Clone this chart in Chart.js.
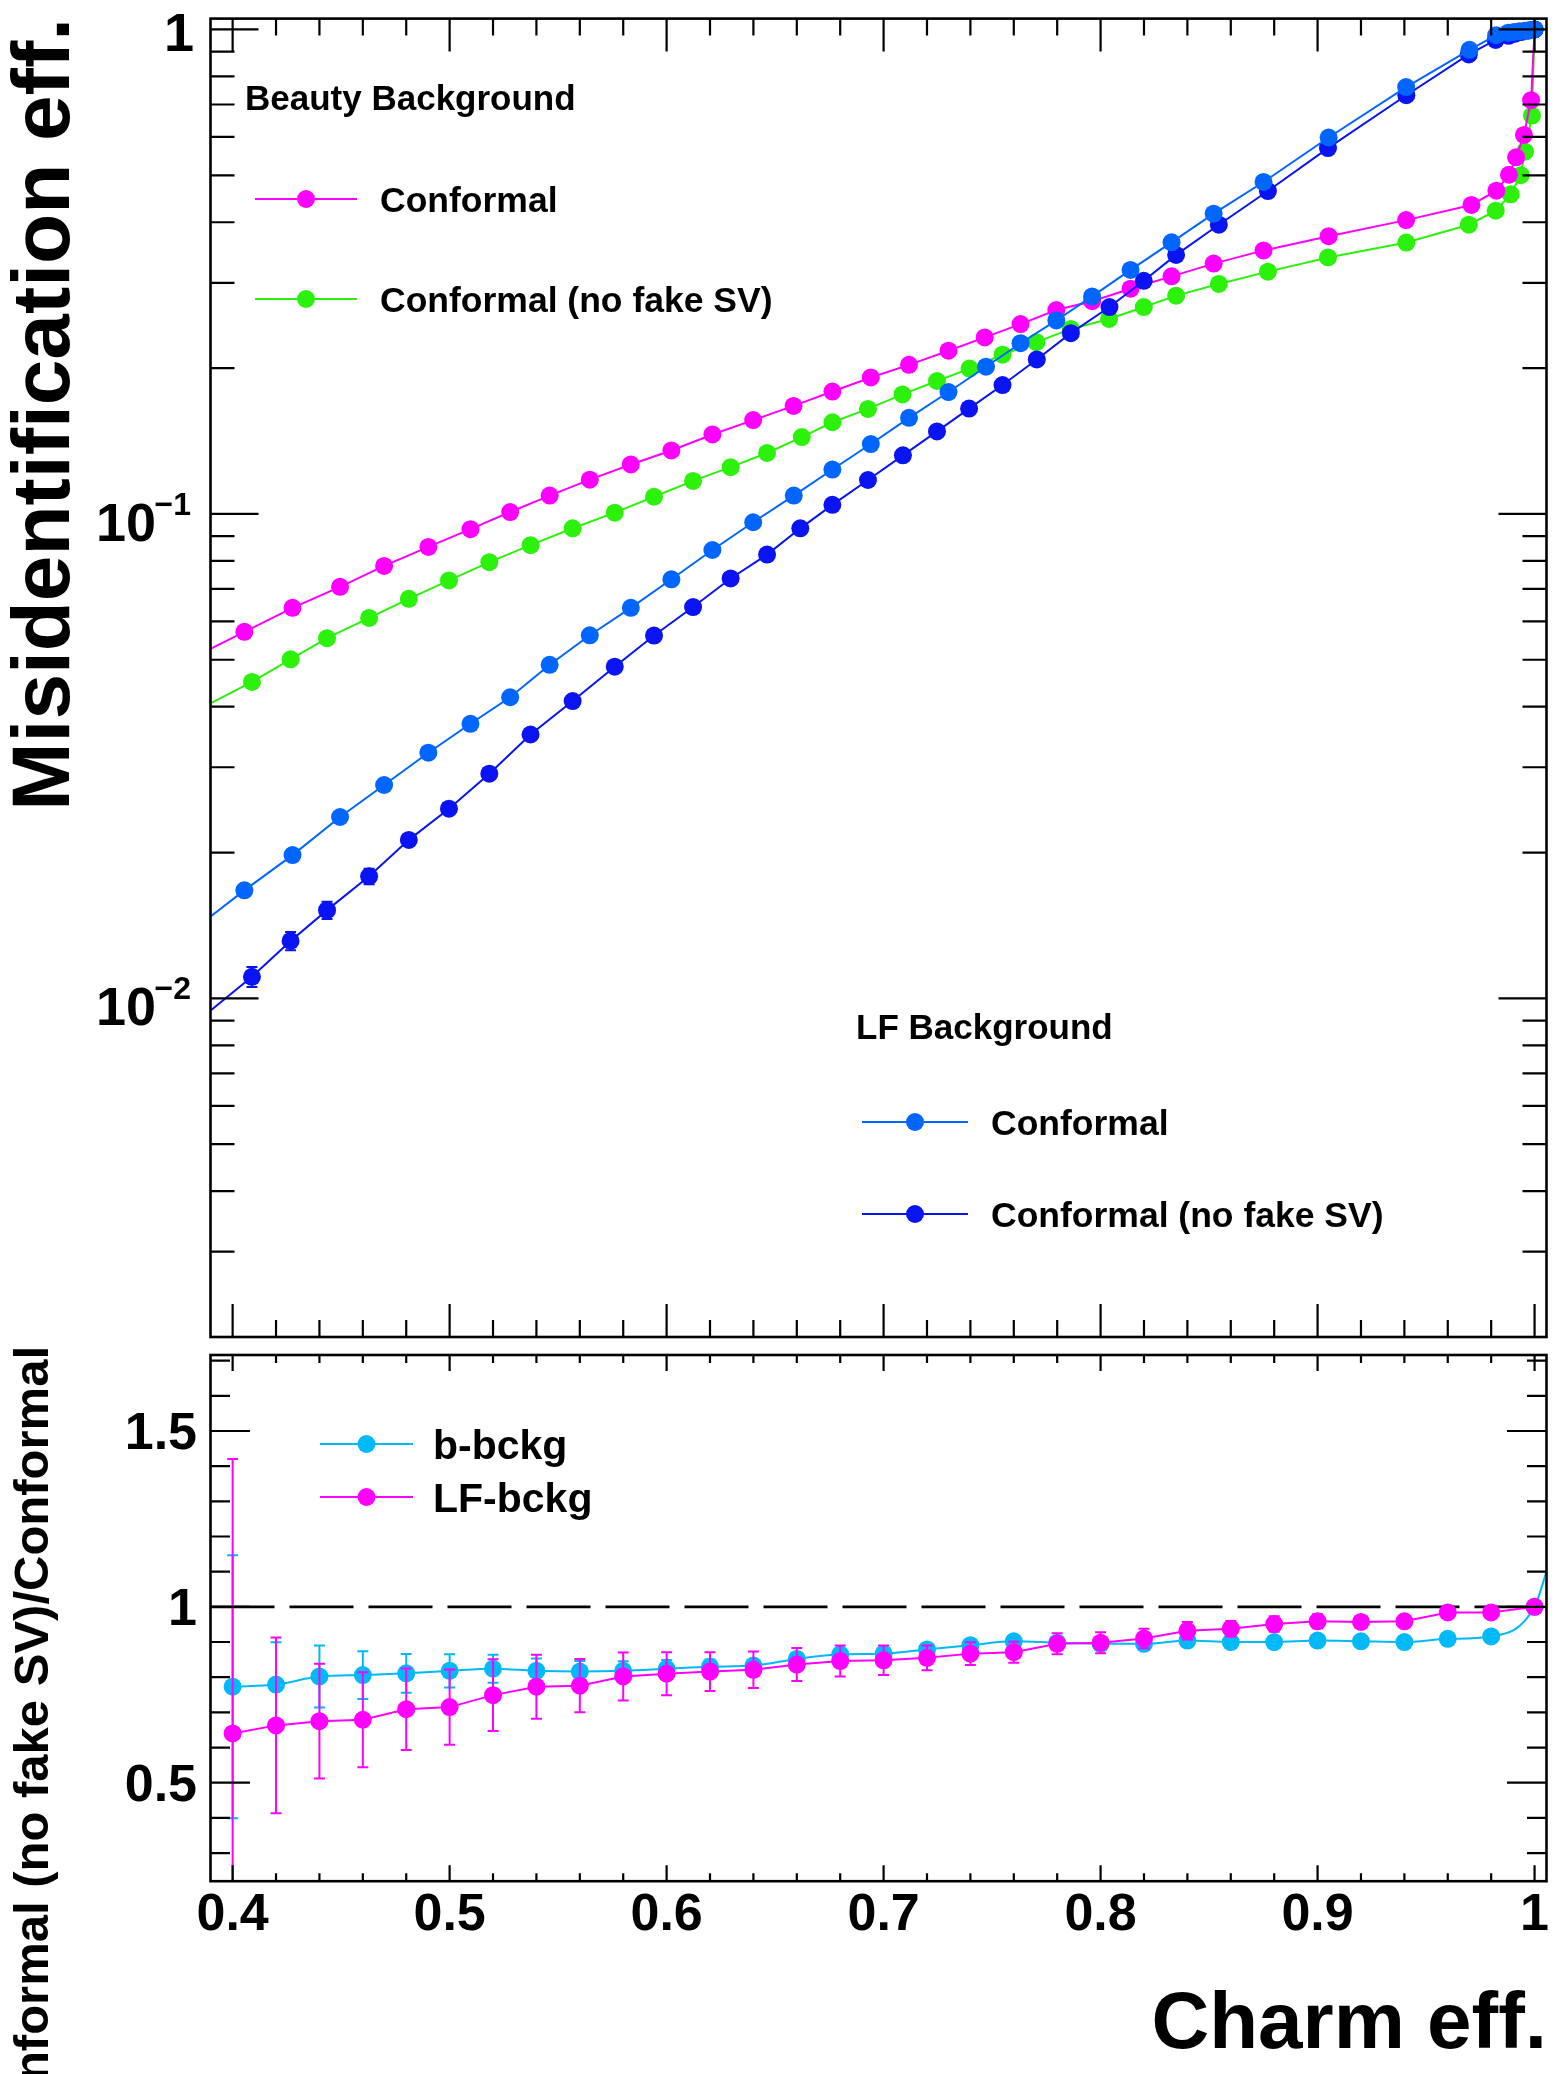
<!DOCTYPE html>
<html lang="en">
<head>
<meta charset="UTF-8" />
<title>Conformal vs Conformal (no fake SV) - charm tagging</title>
<script src="https://cdn.jsdelivr.net/npm/chart.js"></script>
<style>
  body { margin: 0; background: #fff; }
  #wrap { position: relative; width: 1559px; height: 2074px; overflow: hidden; }
  #topPad { position: absolute; left: 0; top: 0; }
  #ratioPad { position: absolute; left: 0; top: 1346px; }
</style>
</head>
<body>
<div id="wrap">
  <canvas id="topPad" width="1559" height="1346"></canvas>
  <canvas id="ratioPad" width="1559" height="728"></canvas>
</div>
<script>
// ---- values ----
// top pad: misidentification eff. vs charm eff.
// first entry of each curve = where the line enters the frame on the left
const beautyConfX = [0.390, 0.4054, 0.4276, 0.4495, 0.4698, 0.4902, 0.5096, 0.5279, 0.5461, 0.5646, 0.5835, 0.6022,
  0.6211, 0.6399, 0.6585, 0.6764, 0.6941, 0.7117, 0.7299, 0.7466, 0.7631, 0.7796, 0.7961, 0.8138, 0.8327, 0.8521,
  0.8751, 0.9051, 0.9408, 0.9709, 0.9824, 0.9882, 0.9915, 0.9951, 0.9984, 1.0];
const beautyConfY = [0.0527, 0.0571, 0.0640, 0.0707, 0.0781, 0.0855, 0.0930, 0.1009, 0.1091, 0.1177, 0.1265, 0.1352,
  0.1459, 0.1562, 0.1671, 0.1789, 0.1913, 0.2031, 0.2172, 0.2314, 0.2465, 0.2635, 0.2748, 0.2917, 0.3093, 0.3286,
  0.3499, 0.3744, 0.4041, 0.4343, 0.4647, 0.5013, 0.5445, 0.6056, 0.7145, 1.0];

const beautyNoFakeX = [0.390, 0.4089, 0.4267, 0.4435, 0.4629, 0.4812, 0.4997, 0.5183, 0.5373, 0.5567, 0.5761, 0.5942,
  0.6122, 0.6295, 0.6463, 0.6623, 0.6764, 0.6928, 0.7087, 0.7246, 0.7396, 0.7548, 0.7704, 0.7863, 0.8039, 0.8199,
  0.8348, 0.8545, 0.8771, 0.9048, 0.9409, 0.9697, 0.9821, 0.9890, 0.9936, 0.9956, 0.9988, 1.0];
const beautyNoFakeY = [0.0407, 0.0450, 0.0501, 0.0554, 0.0610, 0.0668, 0.0729, 0.0795, 0.0862, 0.0934, 0.1006, 0.1085,
  0.1170, 0.1249, 0.1336, 0.1441, 0.1546, 0.1647, 0.1765, 0.1881, 0.1995, 0.2131, 0.2262, 0.2409, 0.2526, 0.2673,
  0.2822, 0.2983, 0.3163, 0.3384, 0.3632, 0.3953, 0.4227, 0.4568, 0.5003, 0.5594, 0.6643, 1.0];

const lfConfX = [0.390, 0.4054, 0.4276, 0.4495, 0.4698, 0.4902, 0.5096, 0.5279, 0.5461, 0.5646, 0.5835, 0.6022,
  0.6211, 0.6399, 0.6586, 0.6764, 0.6941, 0.7117, 0.7299, 0.7472, 0.7631, 0.7796, 0.7961, 0.8138, 0.8327, 0.8521,
  0.8751, 0.9051, 0.9408, 0.9700, 0.9823, 0.9879, 0.9905, 0.9930, 0.9955, 0.9978, 1.0];
const lfConfY = [0.01477, 0.01671, 0.01976, 0.02368, 0.02757, 0.03214, 0.03688, 0.04184, 0.04882, 0.05617, 0.06400, 0.07329,
  0.08424, 0.09612, 0.1091, 0.1235, 0.1394, 0.1579, 0.1785, 0.2013, 0.2251, 0.2508, 0.2812, 0.3189, 0.3636, 0.4166,
  0.4844, 0.5984, 0.7603, 0.9076, 0.9730, 0.9849, 0.988, 0.991, 0.994, 0.997, 1.0];

const lfNoFakeX = [0.390, 0.4089, 0.4267, 0.4435, 0.4629, 0.4812, 0.4997, 0.5183, 0.5373, 0.5567, 0.5761, 0.5942,
  0.6122, 0.6295, 0.6463, 0.6616, 0.6764, 0.6928, 0.7089, 0.7246, 0.7394, 0.7548, 0.7706, 0.7863, 0.8041, 0.8199,
  0.8348, 0.8545, 0.8771, 0.9048, 0.9409, 0.9697, 0.9821, 0.9880, 0.9910, 0.9940, 0.9970, 1.0];
const lfNoFakeY = [0.00945, 0.01108, 0.01314, 0.01521, 0.01786, 0.02124, 0.02463, 0.02910, 0.03505, 0.04109, 0.04838, 0.05610,
  0.06424, 0.07358, 0.08243, 0.09338, 0.1044, 0.1175, 0.1321, 0.1480, 0.1650, 0.1845, 0.2084, 0.2361, 0.2673, 0.3028,
  0.3425, 0.3953, 0.4640, 0.5690, 0.7316, 0.8883, 0.9517, 0.970, 0.980, 0.988, 0.994, 1.0];
const lfNoFakeErr = [0, 0.00053, 0.00057, 0.00062, 0.00066];   // only the first ones stick out of the markers

// bottom pad: Conformal (no fake SV)/Conformal
const ratioX = [0.40, 0.42, 0.44, 0.46, 0.48, 0.50, 0.52, 0.54, 0.56, 0.58, 0.60, 0.62, 0.64, 0.66, 0.68, 0.70,
  0.72, 0.74, 0.76, 0.78, 0.80, 0.82, 0.84, 0.86, 0.88, 0.90, 0.92, 0.94, 0.96, 0.98, 1.00];
const bRatio = [0.773, 0.779, 0.802, 0.806, 0.811, 0.818, 0.824, 0.818, 0.816, 0.818, 0.824, 0.830, 0.833, 0.852, 0.865, 0.867,
  0.879, 0.891, 0.902, 0.898, 0.895, 0.895, 0.904, 0.900, 0.900, 0.904, 0.902, 0.900, 0.909, 0.916, 1.0];
const bRatioErr = [0.374, 0.12, 0.088, 0.068, 0.055, 0.047, 0.040, 0.035, 0.030, 0.027, 0.025, 0.020, 0.018, 0.016, 0.015, 0.014,
  0.013, 0.012, 0.011, 0.010, 0.010, 0.009, 0.008, 0.008, 0.007, 0.007, 0.006, 0.006, 0.005, 0.005, 0];
const bRatioEdgeX = [1.0055];   // b-bckg line leaves the frame on the right
const bRatioEdgeY = [1.10];
const lfRatio = [0.640, 0.663, 0.675, 0.679, 0.709, 0.715, 0.749, 0.773, 0.776, 0.802, 0.810, 0.816, 0.821, 0.836, 0.846, 0.848,
  0.855, 0.867, 0.871, 0.895, 0.898, 0.910, 0.932, 0.938, 0.951, 0.959, 0.957, 0.959, 0.984, 0.984, 1.0];
const lfRatioErr = [0.78, 0.25, 0.163, 0.135, 0.116, 0.107, 0.102, 0.091, 0.076, 0.068, 0.061, 0.055, 0.052, 0.047, 0.044, 0.042,
  0.035, 0.032, 0.030, 0.030, 0.030, 0.028, 0.025, 0.022, 0.022, 0.020, 0.015, 0.017, 0.012, 0.010, 0];

// axis ticks
const xTickValues = [0.4, 0.5, 0.6, 0.7, 0.8, 0.9, 1.0];
const xTickLabels = ['0.4', '0.5', '0.6', '0.7', '0.8', '0.9', '1'];
const logTickValues = [1, 0.1, 0.01];
const logTickExp = ['', '\u22121', '\u22122'];
const ratioTickValues = [0.5, 1.0, 1.5];
const ratioTickLabels = ['0.5', '1', '1.5'];

const MAGENTA = '#ff00ff', GREEN = '#2cf20b', LIGHTBLUE = '#0066ff', DARKBLUE = '#0a14f2', CYAN = '#00b9f8';
const FONT = '"Liberation Sans", Arial, Helvetica, sans-serif';
const R = 9;
const OFFSET = 1346;   // page y of the ratio canvas

function series(xs, ys, color, extra) {
  return Object.assign({
    data: xs.map((x, i) => ({ x: x, y: ys[i] })),
    showLine: true,
    borderColor: color,
    backgroundColor: color,
    borderWidth: 2,
    pointRadius: c => (c.dataIndex === 0 ? 0 : R),
    pointHoverRadius: R,
    pointBorderWidth: 0,
    tension: 0
  }, extra || {});
}

// vertical error bars, drawn just before the markers of the same set
const errorBars = {
  id: 'errorBars',
  beforeDatasetDraw(chart, args) {
    const ds = chart.data.datasets[args.index];
    if (!ds.errors) return;
    const ctx = chart.ctx, a = chart.chartArea;
    const xs = chart.scales.x, ys = chart.scales.y;
    ctx.save();
    ctx.beginPath();
    ctx.rect(a.left, a.top, a.right - a.left, a.bottom - a.top);
    ctx.clip();
    ctx.strokeStyle = ds.borderColor;
    ctx.lineWidth = 2;
    ds.data.forEach((p, i) => {
      const e = ds.errors[i] || 0;
      if (!e) return;
      const px = xs.getPixelForValue(p.x);
      const lo = p.y - e > 0 ? p.y - e : (ys.type === 'logarithmic' ? ys.min : p.y - e);
      const y1 = ys.getPixelForValue(p.y + e), y2 = ys.getPixelForValue(lo);
      ctx.beginPath();
      ctx.moveTo(px, y1); ctx.lineTo(px, y2);
      ctx.moveTo(px - 5.5, y1); ctx.lineTo(px + 5.5, y1);
      ctx.moveTo(px - 5.5, y2); ctx.lineTo(px + 5.5, y2);
      ctx.stroke();
    });
    ctx.restore();
  }
};

function frameAndTicks(chart, xT, yMaj, yMin, xLen, yLen) {
  const ctx = chart.ctx, a = chart.chartArea;
  const xs = chart.scales.x, ys = chart.scales.y;
  ctx.save();
  ctx.strokeStyle = '#000';
  ctx.lineWidth = 2.2;
  ctx.beginPath();
  for (let k = 0; k <= 30; k++) {
    const v = 0.4 + k * 0.02;
    const px = xs.getPixelForValue(v);
    const len = (k % 5 === 0) ? xLen[0] : xLen[1];
    ctx.moveTo(px, a.bottom); ctx.lineTo(px, a.bottom - len);
    ctx.moveTo(px, a.top); ctx.lineTo(px, a.top + len);
  }
  yMaj.forEach(v => {
    const py = ys.getPixelForValue(v);
    ctx.moveTo(a.left, py); ctx.lineTo(a.left + yLen[0], py);
    ctx.moveTo(a.right, py); ctx.lineTo(a.right - yLen[0], py);
  });
  yMin.forEach(v => {
    const py = ys.getPixelForValue(v);
    if (py <= a.top + 1 || py >= a.bottom - 1) return;
    ctx.moveTo(a.left, py); ctx.lineTo(a.left + yLen[1], py);
    ctx.moveTo(a.right, py); ctx.lineTo(a.right - yLen[1], py);
  });
  ctx.stroke();
  ctx.lineWidth = 2.6;
  ctx.strokeRect(a.left, a.top, a.right - a.left, a.bottom - a.top);
  ctx.restore();
}

function vText(ctx, text, xBase, yEnd, font) {
  ctx.save();
  ctx.translate(xBase, yEnd);
  ctx.rotate(-Math.PI / 2);
  ctx.font = font;
  ctx.textAlign = 'right';
  ctx.textBaseline = 'alphabetic';
  ctx.fillStyle = '#000';
  ctx.fillText(text, 0, 0);
  ctx.restore();
}

function legendRow(ctx, x0, x1, y, color, label, textX, size) {
  ctx.save();
  ctx.strokeStyle = color;
  ctx.fillStyle = color;
  ctx.lineWidth = 2;
  ctx.beginPath();
  ctx.moveTo(x0, y); ctx.lineTo(x1, y);
  ctx.stroke();
  ctx.beginPath();
  ctx.arc((x0 + x1) / 2, y, R, 0, Math.PI * 2);
  ctx.fill();
  ctx.fillStyle = '#000';
  ctx.font = 'bold ' + size + 'px ' + FONT;
  ctx.textAlign = 'left';
  ctx.textBaseline = 'alphabetic';
  ctx.fillText(label, textX, y + size * 0.36);
  ctx.restore();
}

const topDecor = {
  id: 'topDecor',
  afterDraw(chart) {
    const ctx = chart.ctx, ys = chart.scales.y;
    const minor = [];
    [0.001, 0.01, 0.1].forEach(d => { for (let m = 2; m <= 9; m++) minor.push(m * d); });
    frameAndTicks(chart, xTickValues, logTickValues, minor, [33, 17], [48, 24]);

    ctx.save();
    ctx.fillStyle = '#000';
    ctx.textBaseline = 'alphabetic';
    logTickValues.forEach((v, i) => {
      const py = ys.getPixelForValue(v);
      ctx.textAlign = 'right';
      if (!logTickExp[i]) {
        ctx.font = 'bold 54px ' + FONT;
        ctx.fillText('1', 194, py + 22);
      } else {
        ctx.font = 'bold 32px ' + FONT;
        ctx.fillText(logTickExp[i], 191, py + 1);
        ctx.font = 'bold 54px ' + FONT;
        ctx.fillText('10', 156, py + 27);
      }
    });
    ctx.restore();

    vText(ctx, 'Misidentification eff.', 69, 18, 'bold 82px ' + FONT);

    ctx.save();
    ctx.fillStyle = '#000';
    ctx.font = 'bold 35px ' + FONT;
    ctx.fillText('Beauty Background', 245, 110);
    ctx.fillText('LF Background', 856, 1039);
    ctx.restore();
    legendRow(ctx, 255, 357, 199, MAGENTA, 'Conformal', 380, 35.5);
    legendRow(ctx, 255, 357, 299, GREEN, 'Conformal (no fake SV)', 380, 35.5);
    legendRow(ctx, 862, 968, 1122, LIGHTBLUE, 'Conformal', 991, 35.5);
    legendRow(ctx, 862, 968, 1214, DARKBLUE, 'Conformal (no fake SV)', 991, 35.5);
  }
};

const ratioDecor = {
  id: 'ratioDecor',
  beforeDatasetsDraw(chart) {
    // reference line at 1
    const ctx = chart.ctx, a = chart.chartArea;
    const py = chart.scales.y.getPixelForValue(1);
    ctx.save();
    ctx.strokeStyle = '#000';
    ctx.lineWidth = 2.6;
    ctx.setLineDash([64, 15]);
    ctx.beginPath();
    ctx.moveTo(a.left, py); ctx.lineTo(a.right, py);
    ctx.stroke();
    ctx.restore();
  },
  afterDraw(chart) {
    const ctx = chart.ctx, a = chart.chartArea;
    const xs = chart.scales.x, ys = chart.scales.y;
    const minor = [];
    for (let k = 3; k <= 17; k++) minor.push(k / 10);
    frameAndTicks(chart, xTickValues, ratioTickValues, minor, [16, 8], [39.5, 19.5]);

    ctx.save();
    ctx.fillStyle = '#000';
    ctx.font = 'bold 52px ' + FONT;
    ctx.textBaseline = 'alphabetic';
    ctx.textAlign = 'right';
    ratioTickValues.forEach((v, i) => {
      ctx.fillText(ratioTickLabels[i], 197, ys.getPixelForValue(v) + 18);
    });
    ctx.textAlign = 'center';
    xTickValues.forEach((v, i) => {
      ctx.fillText(xTickLabels[i], xs.getPixelForValue(v), a.bottom + 49);
    });
    ctx.font = 'bold 80px ' + FONT;
    ctx.textAlign = 'right';
    ctx.fillText('Charm eff.', 1547, 2048 - OFFSET);
    ctx.restore();

    vText(ctx, 'Conformal (no fake SV)/Conformal', 48, 0, 'bold 49px ' + FONT);

    legendRow(ctx, 320, 413, 1444 - OFFSET, CYAN, 'b-bckg', 433, 41);
    legendRow(ctx, 320, 413, 1497 - OFFSET, MAGENTA, 'LF-bckg', 433, 41);
  }
};

const common = {
  responsive: false,
  animation: false,
  events: [],
  plugins: { legend: { display: false }, tooltip: { enabled: false } }
};

new Chart(document.getElementById('topPad'), {
  type: 'scatter',
  data: {
    datasets: [
      series(lfConfX, lfConfY, LIGHTBLUE, { order: 1 }),
      series(lfNoFakeX, lfNoFakeY, DARKBLUE, { order: 2, errors: lfNoFakeErr }),
      series(beautyConfX, beautyConfY, MAGENTA, { order: 3 }),
      series(beautyNoFakeX, beautyNoFakeY, GREEN, { order: 4 })
    ]
  },
  options: Object.assign({}, common, {
    layout: { padding: { left: 210.5, right: 12.5, top: 18.6, bottom: 0.5 } },
    scales: {
      x: { type: 'linear', min: 0.3898, max: 1.0055, bounds: 'data', display: false },
      y: { type: 'logarithmic', min: 0.002, max: 1.053, bounds: 'data', display: false }
    }
  }),
  plugins: [errorBars, topDecor]
});

new Chart(document.getElementById('ratioPad'), {
  type: 'scatter',
  data: {
    datasets: [
      series(ratioX, lfRatio, MAGENTA, { order: 1, errors: lfRatioErr, pointRadius: R }),
      Object.assign(series(ratioX.concat(bRatioEdgeX), bRatio.concat(bRatioEdgeY), CYAN, {
        order: 2,
        errors: bRatioErr,
        cubicInterpolationMode: 'monotone'
      }), { pointRadius: c => (c.dataIndex >= ratioX.length ? 0 : R) })
    ]
  },
  options: Object.assign({}, common, {
    layout: { padding: { left: 210.5, right: 12.5, top: 0, bottom: 192.8 } },
    scales: {
      x: { type: 'linear', min: 0.3898, max: 1.0055, bounds: 'data', display: false },
      y: { type: 'linear', min: 0.22, max: 1.716, bounds: 'data', display: false }
    }
  }),
  plugins: [errorBars, ratioDecor]
});
</script>
</body>
</html>
